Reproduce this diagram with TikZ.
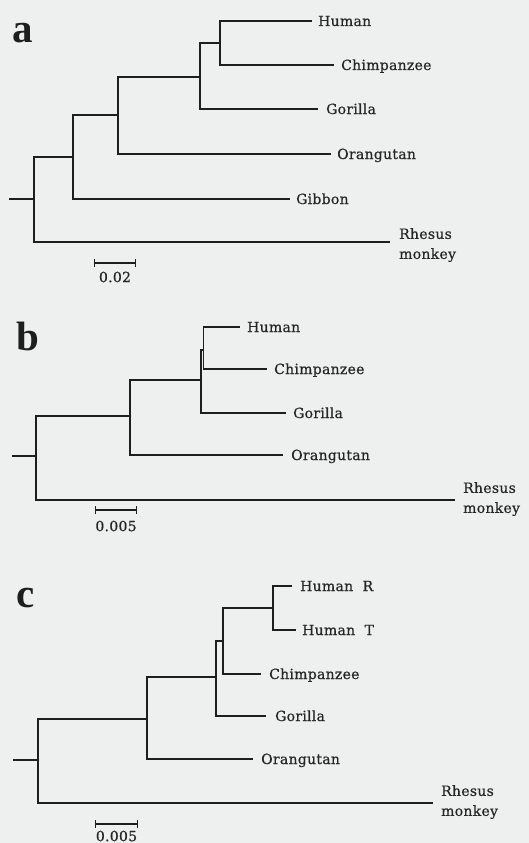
\documentclass[tikz,border=0pt]{standalone}
\usepackage{fontspec}
\usetikzlibrary{arrows.meta, calc}
\newfontfamily\treefont{DejaVu Serif}[FakeBold=0.6, LetterSpace=2]
\newfontfamily\panelfont{Liberation Serif}
\definecolor{paper}{HTML}{EEF0EF}
\definecolor{ink}{HTML}{1E1E1E}
\definecolor{txt}{HTML}{262626}
\tikzset{
  branch/.style = {draw=ink, line width=1.3pt},
  leaf/.style   = {anchor=base west, inner sep=0pt, text=txt,
                   font=\treefont\fontsize{14}{20}\selectfont},
  leaf2/.style  = {leaf, anchor=north west, align=left},
  panel/.style  = {anchor=base west, inner sep=0pt, text=ink,
                   font=\panelfont\bfseries\fontsize{41}{41}\selectfont},
  sbar/.style   = {{Bar[width=8pt]}-{Bar[width=8pt]}, draw=ink, line width=1.3pt},
  slbl/.style   = {inner sep=0pt, text=txt, font=\treefont\fontsize{14}{16}\selectfont},
}

\begin{document}
\begin{tikzpicture}[x=1pt, y=-1pt]

\fill[paper] (0,0) rectangle (529,843);
\useasboundingbox (0,0) rectangle (529,843);

%% ── Panel a ──────────────────────────────────────────────────────────────────
\node[panel] (pA) at (12,43) {a};

\coordinate (sA)  at (9,199);
\coordinate (rA)  at (34,199);
\coordinate (nA1) at (73,157);
\coordinate (nA2) at (118,115);
\coordinate (nA3) at (200,77);
\coordinate (nA4) at (220,43);

\coordinate (tHumA) at (312,21);
\coordinate (tChiA) at (334,65);
\coordinate (tGorA) at (318,109);
\coordinate (tOraA) at (331,154);
\coordinate (tGibA) at (290,199);
\coordinate (tRhA)  at (390,242);

\node[leaf] (lHumA) at ([xshift=6pt, yshift=-5pt]tHumA) {Human};
\node[leaf] (lChiA) at ([xshift=7pt, yshift=-5pt]tChiA) {Chimpanzee};
\node[leaf] (lGorA) at ([xshift=8pt, yshift=-5pt]tGorA) {Gorilla};
\node[leaf] (lOraA) at ([xshift=6pt, yshift=-5pt]tOraA) {Orangutan};
\node[leaf] (lGibA) at ([xshift=6pt, yshift=-5pt]tGibA) {Gibbon};
\node[leaf2] (lRhA) at ([xshift=9pt, yshift=14pt]tRhA) {Rhesus\\monkey};

\draw[branch] (sA) -- (rA);
\draw[branch] (rA) |- (nA1);
\draw[branch] (rA) |- (tRhA);
\draw[branch] (nA1) |- (nA2);
\draw[branch] (nA1) |- (tGibA);
\draw[branch] (nA2) |- (nA3);
\draw[branch] (nA2) |- (tOraA);
\draw[branch] (nA3) |- (nA4);
\draw[branch] (nA3) |- (tGorA);
\draw[branch] (nA4) |- (tHumA);
\draw[branch] (nA4) |- (tChiA);

% scale
\coordinate (sbA1) at (94,263);
\coordinate (sbA2) at (136,263);
\draw[sbar] (sbA1) -- (sbA2);
\node[slbl] (sbAl) at ([yshift=-14pt]$(sbA1)!0.5!(sbA2)$) {0.02};

%% ── Panel b ──────────────────────────────────────────────────────────────────
\node[panel] (pB) at (16,350) {b};

\coordinate (sB)  at (12,456);
\coordinate (rB)  at (36,456);
\coordinate (nB1) at (130,416);
\coordinate (nB2) at (201,380);
\coordinate (nB3) at (203.5,350);

\coordinate (tHumB) at (240,327);
\coordinate (tChiB) at (267,369);
\coordinate (tGorB) at (286,413);
\coordinate (tOraB) at (283,455);
\coordinate (tRhB)  at (455,500);

\node[leaf] (lHumB) at ([xshift=7pt, yshift=-5pt]tHumB) {Human};
\node[leaf] (lChiB) at ([xshift=7pt, yshift=-5pt]tChiB) {Chimpanzee};
\node[leaf] (lGorB) at ([xshift=7pt, yshift=-5pt]tGorB) {Gorilla};
\node[leaf] (lOraB) at ([xshift=8pt, yshift=-5pt]tOraB) {Orangutan};
\node[leaf2] (lRhB) at ([xshift=8pt, yshift=18pt]tRhB) {Rhesus\\monkey};

\draw[branch] (sB) -- (rB);
\draw[branch] (rB) |- (nB1);
\draw[branch] (rB) |- (tRhB);
\draw[branch] (nB1) |- (nB2);
\draw[branch] (nB1) |- (tOraB);
\draw[branch] (nB2) |- (nB3);
\draw[branch] (nB2) |- (tGorB);
\draw[branch] (nB3) |- (tHumB);
\draw[branch] (nB3) |- (tChiB);

% scale
\coordinate (sbB1) at (95,510);
\coordinate (sbB2) at (137,510);
\draw[sbar] (sbB1) -- (sbB2);
\node[slbl] (sbBl) at ([yshift=-16pt]$(sbB1)!0.5!(sbB2)$) {0.005};

%% ── Panel c ──────────────────────────────────────────────────────────────────
\node[panel] (pC) at (16,607) {c};

\coordinate (sC)  at (13,760);
\coordinate (rC)  at (38,760);
\coordinate (nC1) at (147,719);
\coordinate (nC2) at (216,677);
\coordinate (nC3) at (223,641);
\coordinate (nC4) at (273,608);

\coordinate (tHRC)  at (292,586);
\coordinate (tHTC)  at (296,630);
\coordinate (tChiC) at (261,674);
\coordinate (tGorC) at (266,716);
\coordinate (tOraC) at (253,759);
\coordinate (tRhC)  at (433,803);

\node[leaf] (lHRC)  at ([xshift=8pt, yshift=-5pt]tHRC)  {Human\ \ R};
\node[leaf] (lHTC)  at ([xshift=6pt, yshift=-5pt]tHTC)  {Human\ \ T};
\node[leaf] (lChiC) at ([xshift=8pt, yshift=-5pt]tChiC) {Chimpanzee};
\node[leaf] (lGorC) at ([xshift=9pt, yshift=-5pt]tGorC) {Gorilla};
\node[leaf] (lOraC) at ([xshift=8pt, yshift=-5pt]tOraC) {Orangutan};
\node[leaf2] (lRhC) at ([xshift=8pt, yshift=18pt]tRhC) {Rhesus\\monkey};

\draw[branch] (sC) -- (rC);
\draw[branch] (rC) |- (nC1);
\draw[branch] (rC) |- (tRhC);
\draw[branch] (nC1) |- (nC2);
\draw[branch] (nC1) |- (tOraC);
\draw[branch] (nC2) |- (nC3);
\draw[branch] (nC2) |- (tGorC);
\draw[branch] (nC3) |- (nC4);
\draw[branch] (nC3) |- (tChiC);
\draw[branch] (nC4) |- (tHRC);
\draw[branch] (nC4) |- (tHTC);

% scale
\coordinate (sbC1) at (95,824);
\coordinate (sbC2) at (138,824);
\draw[sbar] (sbC1) -- (sbC2);
\node[slbl] (sbCl) at ([yshift=-12pt]$(sbC1)!0.5!(sbC2)$) {0.005};

\end{tikzpicture}
\end{document}
